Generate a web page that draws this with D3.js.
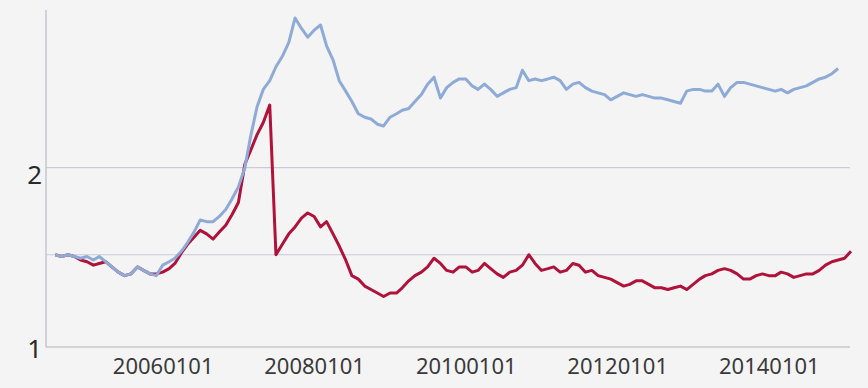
<!DOCTYPE html>
<html lang="en">
  <head>
    <meta charset="utf-8" />
    <style>
      html, body { margin: 0; padding: 0; background: #f4f4f4; }
      svg { display: block; }
    </style>
  </head>
  <body>
    <svg id="chart" width="868" height="388"></svg>
    <script src="https://d3js.org/d3.v7.min.js"></script>
    <script>
      // monthly values, first point 2004-08
      const startMonth = "2004-08";
      const blueValues = [
        1.50, 1.49, 1.50, 1.49, 1.48, 1.49, 1.47, 1.49, 1.46, 1.43,
        1.40, 1.38, 1.39, 1.43, 1.41, 1.39, 1.38, 1.44, 1.46, 1.48,
        1.52, 1.57, 1.63, 1.70, 1.69, 1.69, 1.72, 1.76, 1.82, 1.89,
        2.00, 2.18, 2.35, 2.45, 2.50, 2.58, 2.64, 2.72, 2.86, 2.80,
        2.75, 2.79, 2.82, 2.70, 2.62, 2.50, 2.44, 2.38, 2.31, 2.29,
        2.28, 2.25, 2.24, 2.29, 2.31, 2.33, 2.34, 2.38, 2.42, 2.48,
        2.52, 2.40, 2.46, 2.49, 2.51, 2.51, 2.47, 2.45, 2.48, 2.45,
        2.41, 2.43, 2.45, 2.46, 2.56, 2.50, 2.51, 2.50, 2.51, 2.52,
        2.50, 2.45, 2.48, 2.49, 2.46, 2.44, 2.43, 2.42, 2.39, 2.41,
        2.43, 2.42, 2.41, 2.42, 2.41, 2.40, 2.40, 2.39, 2.38, 2.37,
        2.44, 2.45, 2.45, 2.44, 2.44, 2.48, 2.41, 2.46, 2.49, 2.49,
        2.48, 2.47, 2.46, 2.45, 2.44, 2.45, 2.43, 2.45, 2.46, 2.47,
        2.49, 2.51, 2.52, 2.54, 2.57
      ];
      const redValues = [
        1.50, 1.49, 1.50, 1.49, 1.47, 1.46, 1.44, 1.45, 1.46, 1.43,
        1.40, 1.38, 1.39, 1.43, 1.41, 1.39, 1.39, 1.40, 1.42, 1.45,
        1.51, 1.56, 1.60, 1.64, 1.62, 1.59, 1.63, 1.67, 1.73, 1.80,
        2.02, 2.10, 2.19, 2.26, 2.36, 1.50, 1.56, 1.62, 1.66, 1.71,
        1.74, 1.72, 1.66, 1.69, 1.62, 1.55, 1.47, 1.38, 1.36, 1.32,
        1.30, 1.28, 1.26, 1.28, 1.28, 1.31, 1.35, 1.38, 1.40, 1.43,
        1.48, 1.45, 1.41, 1.40, 1.43, 1.43, 1.40, 1.41, 1.45, 1.42,
        1.39, 1.37, 1.40, 1.41, 1.44, 1.50, 1.45, 1.41, 1.42, 1.43,
        1.40, 1.41, 1.45, 1.44, 1.40, 1.41, 1.38, 1.37, 1.36, 1.34,
        1.32, 1.33, 1.35, 1.35, 1.33, 1.31, 1.31, 1.30, 1.31, 1.32,
        1.30, 1.33, 1.36, 1.38, 1.39, 1.41, 1.42, 1.41, 1.39, 1.36,
        1.36, 1.38, 1.39, 1.38, 1.38, 1.40, 1.39, 1.37, 1.38, 1.39,
        1.39, 1.41, 1.44, 1.46, 1.47, 1.48, 1.52
      ];
      const xTickLabels = ["20060101", "20080101", "20100101", "20120101", "20140101"];
      const yTicks = [1, 2];
      const yGrid = [1.5, 2];

      const parseMonth = d3.timeParse("%Y-%m");
      const parseTick = d3.timeParse("%Y%m%d");
      const start = parseMonth(startMonth);
      const toPoints = values =>
        values.map((v, i) => ({ date: d3.timeMonth.offset(start, i), value: v }));
      const blue = toPoints(blueValues);
      const red = toPoints(redValues);

      const svg = d3.select("#chart");

      const x = d3
        .scaleTime()
        .domain([d3.timeMonth.offset(start, -1), red[red.length - 1].date])
        .range([48.8, 851]);
      const y = d3.scaleLinear().domain([0.97, 2.906]).range([347, 10]);

      // grid
      svg
        .append("g")
        .selectAll("line")
        .data(yGrid)
        .join("line")
        .attr("x1", 46)
        .attr("x2", 850)
        .attr("y1", d => y(d))
        .attr("y2", d => y(d))
        .attr("stroke", "#c9ccd8")
        .attr("stroke-width", 1.2);

      // axes
      const xAxis = svg
        .append("g")
        .attr("transform", "translate(0,347)")
        .call(
          d3
            .axisBottom(x)
            .tickValues(xTickLabels.map(parseTick))
            .tickFormat(d3.timeFormat("%Y%m%d"))
            .tickSize(0)
            .tickPadding(11)
        );
      xAxis.select(".domain").remove();
      xAxis
        .selectAll("text")
        .attr("font-family", "'Noto Sans', sans-serif")
        .attr("font-size", 22)
        .attr("fill", "#3a3a3a");

      const yAxis = svg
        .append("g")
        .attr("transform", "translate(44,0)")
        .call(d3.axisLeft(y).tickValues(yTicks).tickFormat(d3.format("d")).tickSize(0).tickPadding(2));
      yAxis.select(".domain").remove();
      yAxis
        .selectAll("text")
        .attr("font-family", "'Noto Sans', sans-serif")
        .attr("font-size", 26)
        .attr("fill", "#2a2a2a")
        .attr("dy", "0.6em");

      svg
        .append("line")
        .attr("x1", 46).attr("x2", 46)
        .attr("y1", 10).attr("y2", 347)
        .attr("stroke", "#c4c7cf")
        .attr("stroke-width", 1.5);
      svg
        .append("line")
        .attr("x1", 46).attr("x2", 850)
        .attr("y1", 347).attr("y2", 347)
        .attr("stroke", "#c4c7cf")
        .attr("stroke-width", 1.5);

      const line = d3
        .line()
        .x(d => x(d.date))
        .y(d => y(d.value));

      svg
        .append("path")
        .datum(red)
        .attr("fill", "none")
        .attr("stroke", "#b0123a")
        .attr("stroke-width", 3)
        .attr("stroke-linejoin", "round")
        .attr("d", line);

      svg
        .append("path")
        .datum(blue)
        .attr("fill", "none")
        .attr("stroke", "#8eaad6")
        .attr("stroke-width", 3)
        .attr("stroke-linejoin", "round")
        .attr("d", line);
    </script>
  </body>
</html>
